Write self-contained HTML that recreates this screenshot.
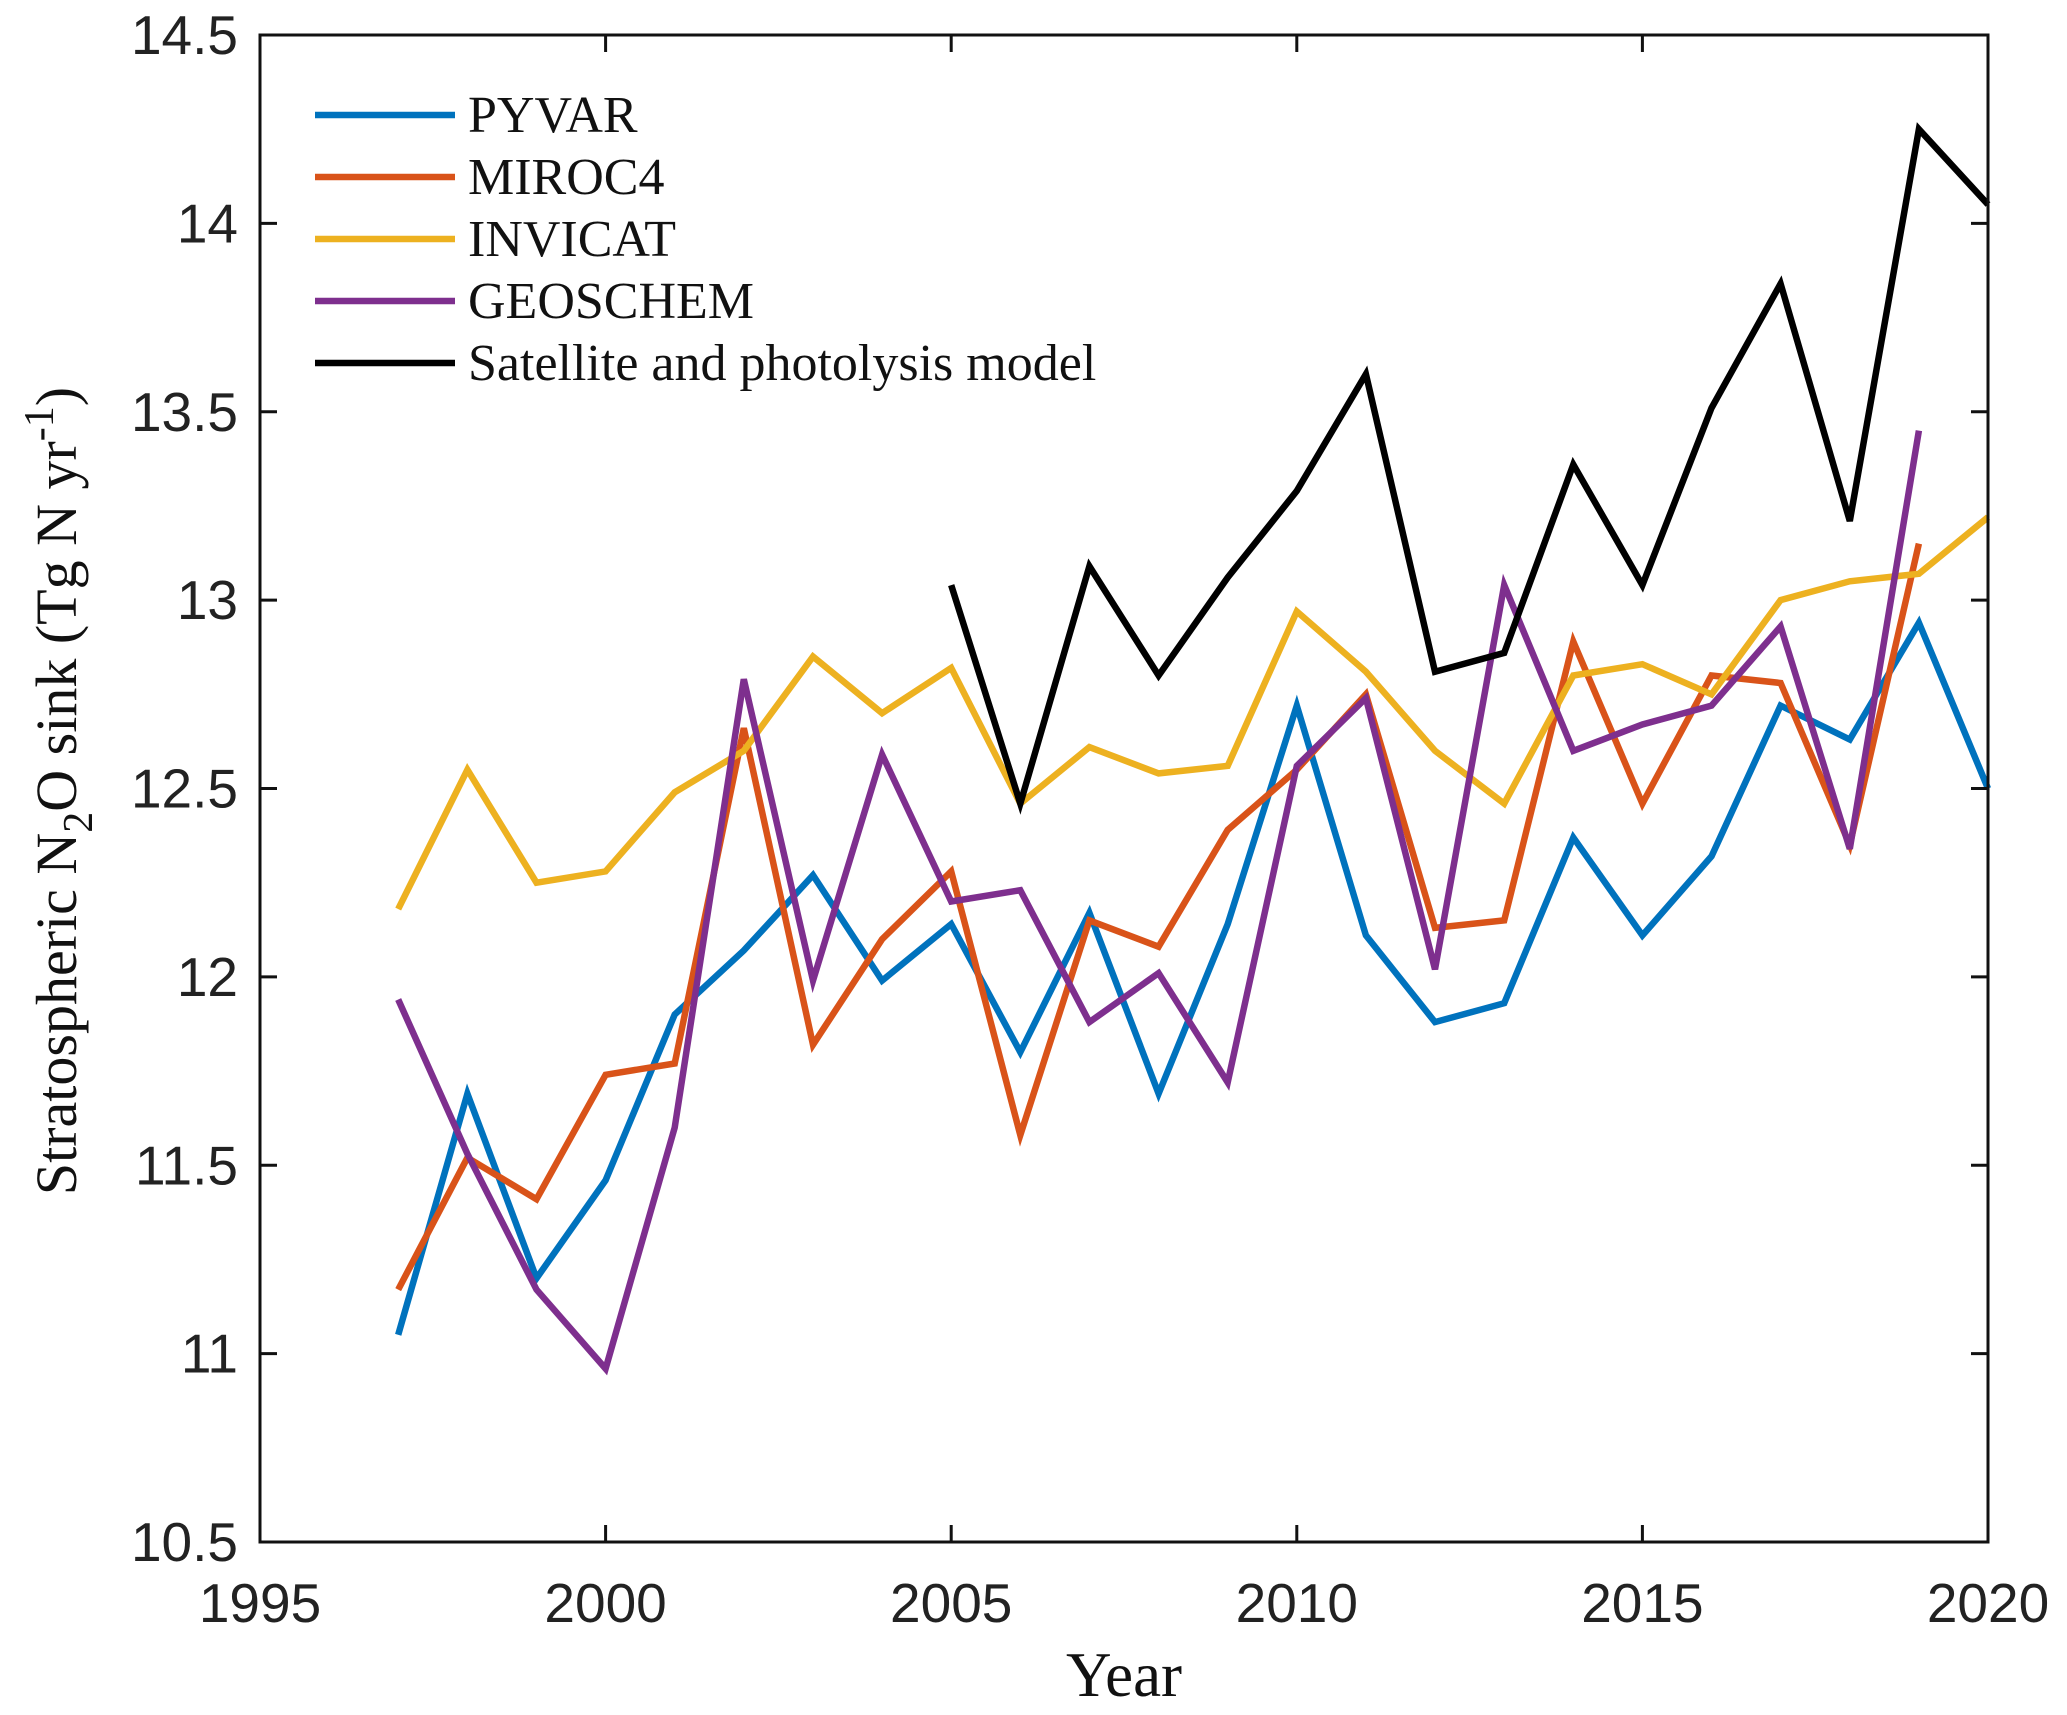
<!DOCTYPE html>
<html><head><meta charset="utf-8"><style>
body{margin:0;background:#fff}
svg{display:block}
.tk{font-family:"Liberation Sans",Arial,sans-serif;font-size:55px;fill:#222}
.tm{font-family:"Liberation Serif","Times New Roman",serif;fill:#111}
</style></head><body>
<svg id="chart" width="2067" height="1715" viewBox="0 0 2067 1715">
<rect width="2067" height="1715" fill="#fff"/>
<g id="series"></g>
<rect x="260" y="35" width="1728" height="1507" fill="none" stroke="#111" stroke-width="3"/>
<g id="ticks"></g>
<text class="tm" x="1124" y="1696" font-size="63" text-anchor="middle">Year</text>
<text class="tm" transform="translate(76,791) rotate(-90)" font-size="58" text-anchor="middle">Stratospheric N<tspan font-size="42" dy="16">2</tspan><tspan dy="-16">O sink (Tg N yr</tspan><tspan font-size="42" dy="-23">-1</tspan><tspan dy="23">)</tspan></text>
<g id="legend"></g>
</svg>
<script>
const years = [1997,1998,1999,2000,2001,2002,2003,2004,2005,2006,2007,2008,2009,2010,2011,2012,2013,2014,2015,2016,2017,2018,2019,2020];
const pyvar = [11.05,11.69,11.2,11.46,11.9,12.07,12.27,11.99,12.14,11.8,12.17,11.69,12.14,12.72,12.11,11.88,11.93,12.37,12.11,12.32,12.72,12.63,12.94,12.5];
const miroc4 = [11.17,11.52,11.41,11.74,11.77,12.66,11.82,12.1,12.28,11.58,12.15,12.08,12.39,12.55,12.75,12.13,12.15,12.89,12.46,12.8,12.78,12.35,13.15,null];
const invicat = [12.18,12.55,12.25,12.28,12.49,12.6,12.85,12.7,12.82,12.46,12.61,12.54,12.56,12.97,12.81,12.6,12.46,12.8,12.83,12.75,13.0,13.05,13.07,13.22];
const geoschem = [11.94,11.53,11.17,10.96,11.6,12.79,11.99,12.59,12.2,12.23,11.88,12.01,11.72,12.56,12.74,12.02,13.04,12.6,12.67,12.72,12.93,12.34,13.45,null];
const satellite = [null,null,null,null,null,null,null,null,13.04,12.46,13.09,12.8,13.06,13.29,13.6,12.81,12.86,13.36,13.04,13.51,13.84,13.21,14.25,14.05];
const xTicks = [1995,2000,2005,2010,2015,2020];
const yTicks = [10.5,11,11.5,12,12.5,13,13.5,14,14.5];
const yTickLabels = ["10.5","11","11.5","12","12.5","13","13.5","14","14.5"];
const seriesNames = ["PYVAR","MIROC4","INVICAT","GEOSCHEM","Satellite and photolysis model"];

const L=260,R=1988,T=35,B=1542;
const xs=v=>L+(v-1995)/(2020-1995)*(R-L);
const ys=v=>B-(v-10.5)/(14.5-10.5)*(B-T);
const NS="http://www.w3.org/2000/svg";
function mk(tag,attrs,parent){const e=document.createElementNS(NS,tag);for(const k in attrs)e.setAttribute(k,attrs[k]);parent.appendChild(e);return e;}
const tg=document.getElementById('ticks');
xTicks.forEach(t=>{
  const x=xs(t);
  const a=mk('path',{d:`M${x},${B}V${B-17}M${x},${T}V${T+17}`,stroke:'#111','stroke-width':3},tg);
  
  
  const l=mk('text',{x:x,y:B+80,'text-anchor':'middle',class:'tk'},tg);
  l.textContent=t;
  
  
});
yTicks.forEach((t,i)=>{
  const y=ys(t);
  const a=mk('path',{d:`M${L},${y}H${L+17}M${R},${y}H${R-17}`,stroke:'#111','stroke-width':3},tg);
  
  
  const l=mk('text',{x:L-22,y:y+19,'text-anchor':'end',class:'tk'},tg);
  l.textContent=yTickLabels[i];
  
  
});
const colors=["#0072BD","#D95319","#EDB120","#7E2F8E","#000000"];
const data=[pyvar,miroc4,invicat,geoschem,satellite];
const sg=document.getElementById('series');
data.forEach((arr,i)=>{
  let d='';let pen=false;
  arr.forEach((v,j)=>{
    if(v===null){pen=false;return;}
    d+=(pen?'L':'M')+xs(years[j]).toFixed(1)+','+ys(v).toFixed(1);pen=true;
  });
  const p=mk('path',{d:d,fill:'none',stroke:colors[i],'stroke-width':6.5,'stroke-linejoin':'miter'},sg);
  
  
});
const lg=document.getElementById('legend');
seriesNames.forEach((n,i)=>{
  const y=115+i*62;
  const g=mk('g',{},lg);
  
  
  mk('line',{x1:315,x2:455,y1:y,y2:y,stroke:colors[i],'stroke-width':6.5},g);
  const t=mk('text',{x:468,y:y+17,class:'tm','font-size':52},g);
  t.textContent=n;
});
</script>
</body></html>
